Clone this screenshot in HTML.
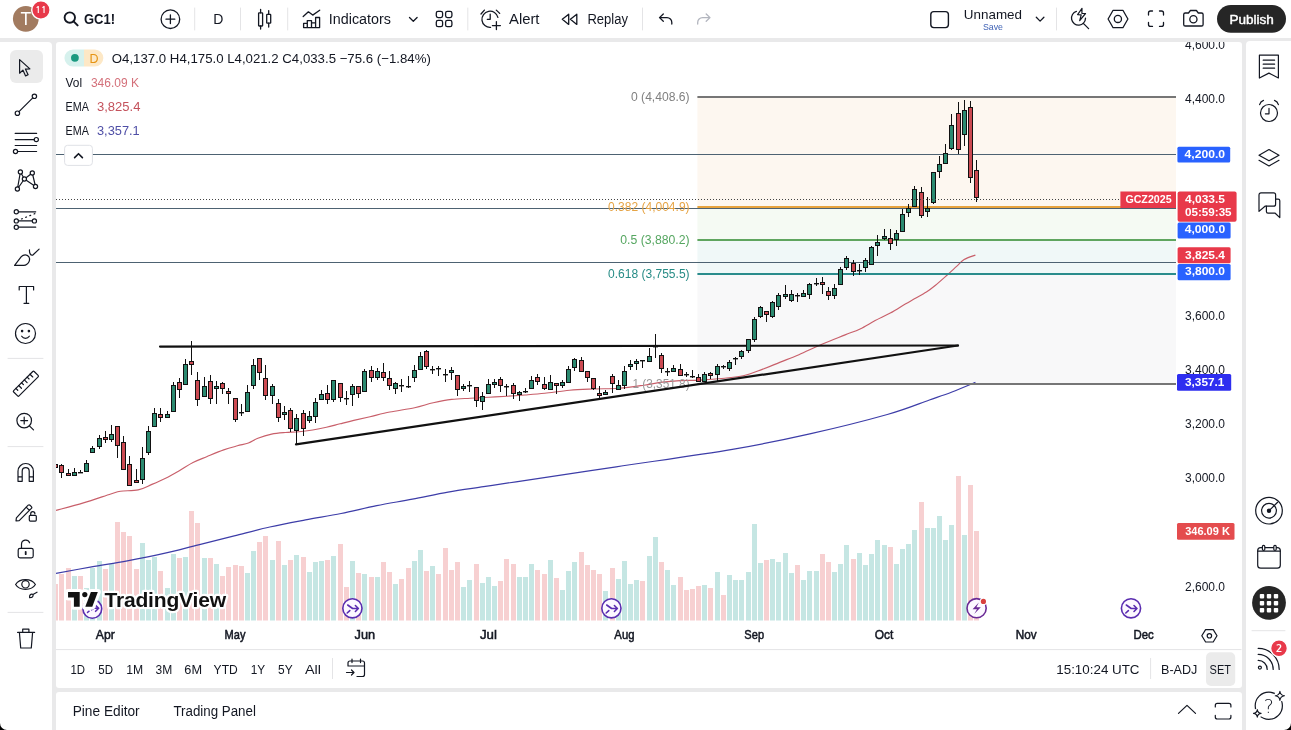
<!DOCTYPE html>
<html><head><meta charset="utf-8"><title>GC1! chart</title>
<style>
html,body{margin:0;padding:0;}
body{width:1291px;height:730px;overflow:hidden;position:relative;background:#e9e9ea;font-family:"Liberation Sans",Arial,sans-serif;color:#131722;}
.abs{position:absolute;}
.panel{position:absolute;background:#fff;}
svg{position:absolute;overflow:hidden;}
svg text{font-family:"Liberation Sans",Arial,sans-serif;}
.fl{font-size:12px;}
.tl{font-size:12.2px;font-weight:normal;fill:#131722;stroke:#131722;stroke-width:0.5px;}
.tvt{font-size:20.6px;font-weight:bold;fill:#111;letter-spacing:-0.2px;}
.tvlogo{paint-order:stroke;}
.chart{left:56px;top:42px;}

</style></head>
<body>
<div class="panel" style="left:0;top:0;width:1291px;height:38px;"></div>
<div class="panel" style="left:0;top:42px;width:52px;height:688px;border-top-right-radius:4px;"></div>
<div class="panel" style="left:56px;top:42px;width:1185.7px;height:646px;border-radius:3px;"></div>
<div class="panel" style="left:56px;top:691.7px;width:1185.7px;height:38.3px;border-top-left-radius:3px;border-top-right-radius:3px;"></div>
<div class="panel" style="left:1246px;top:41px;width:45px;height:689px;border-top-left-radius:4px;"></div>
<svg class="chart" width="1120" height="608" viewBox="56 42 1120 608">
<rect x="697.4" y="97" width="478.6" height="109.5" fill="#fdf7f0"/>
<rect x="697.4" y="206.5" width="478.6" height="33.5" fill="#f5faf3"/>
<rect x="697.4" y="240" width="478.6" height="33.7" fill="#f0f8f8"/>
<rect x="697.4" y="273.7" width="478.6" height="109.6" fill="#f8f8f9"/>
<rect x="53" y="584" width="5" height="36.5" fill="#f7d0d1"/>
<rect x="59" y="574" width="5" height="46.5" fill="#f7d0d1"/>
<rect x="66" y="568" width="5" height="52.5" fill="#f7d0d1"/>
<rect x="72" y="576" width="5" height="44.5" fill="#c5e6e3"/>
<rect x="78" y="576" width="5" height="44.5" fill="#f7d0d1"/>
<rect x="84" y="588" width="5" height="32.5" fill="#c5e6e3"/>
<rect x="90" y="568" width="5" height="52.5" fill="#c5e6e3"/>
<rect x="97" y="561" width="5" height="59.5" fill="#c5e6e3"/>
<rect x="103" y="569" width="5" height="51.5" fill="#f7d0d1"/>
<rect x="109" y="564" width="5" height="56.5" fill="#c5e6e3"/>
<rect x="115" y="522" width="5" height="98.5" fill="#f7d0d1"/>
<rect x="121" y="532" width="5" height="88.5" fill="#f7d0d1"/>
<rect x="127" y="536" width="5" height="84.5" fill="#f7d0d1"/>
<rect x="134" y="569" width="5" height="51.5" fill="#f7d0d1"/>
<rect x="140" y="543" width="5" height="77.5" fill="#c5e6e3"/>
<rect x="146" y="560" width="5" height="60.5" fill="#c5e6e3"/>
<rect x="152" y="557" width="5" height="63.5" fill="#c5e6e3"/>
<rect x="158" y="571" width="5" height="49.5" fill="#f7d0d1"/>
<rect x="165" y="588" width="5" height="32.5" fill="#c5e6e3"/>
<rect x="171" y="554" width="5" height="66.5" fill="#c5e6e3"/>
<rect x="177" y="558" width="5" height="62.5" fill="#f7d0d1"/>
<rect x="183" y="557" width="5" height="63.5" fill="#c5e6e3"/>
<rect x="189" y="511" width="5" height="109.5" fill="#f7d0d1"/>
<rect x="195" y="523" width="5" height="97.5" fill="#f7d0d1"/>
<rect x="202" y="558" width="5" height="62.5" fill="#c5e6e3"/>
<rect x="208" y="558" width="5" height="62.5" fill="#f7d0d1"/>
<rect x="214" y="564" width="5" height="56.5" fill="#c5e6e3"/>
<rect x="220" y="576" width="5" height="44.5" fill="#f7d0d1"/>
<rect x="226" y="567" width="5" height="53.5" fill="#f7d0d1"/>
<rect x="233" y="565" width="5" height="55.5" fill="#f7d0d1"/>
<rect x="239" y="566" width="5" height="54.5" fill="#f7d0d1"/>
<rect x="245" y="573" width="5" height="47.5" fill="#c5e6e3"/>
<rect x="251" y="551" width="5" height="69.5" fill="#c5e6e3"/>
<rect x="257" y="542" width="5" height="78.5" fill="#f7d0d1"/>
<rect x="263" y="536" width="5" height="84.5" fill="#f7d0d1"/>
<rect x="270" y="560" width="5" height="60.5" fill="#c5e6e3"/>
<rect x="276" y="541" width="5" height="79.5" fill="#f7d0d1"/>
<rect x="282" y="565" width="5" height="55.5" fill="#c5e6e3"/>
<rect x="288" y="560" width="5" height="60.5" fill="#f7d0d1"/>
<rect x="294" y="555" width="5" height="65.5" fill="#c5e6e3"/>
<rect x="301" y="557" width="5" height="63.5" fill="#f7d0d1"/>
<rect x="307" y="572" width="5" height="48.5" fill="#c5e6e3"/>
<rect x="313" y="562" width="5" height="58.5" fill="#c5e6e3"/>
<rect x="319" y="561" width="5" height="59.5" fill="#c5e6e3"/>
<rect x="325" y="560" width="5" height="60.5" fill="#f7d0d1"/>
<rect x="331" y="556" width="5" height="64.5" fill="#c5e6e3"/>
<rect x="338" y="544" width="5" height="76.5" fill="#f7d0d1"/>
<rect x="344" y="587" width="5" height="33.5" fill="#f7d0d1"/>
<rect x="350" y="561" width="5" height="59.5" fill="#c5e6e3"/>
<rect x="356" y="573" width="5" height="47.5" fill="#f7d0d1"/>
<rect x="362" y="574" width="5" height="46.5" fill="#c5e6e3"/>
<rect x="369" y="577" width="5" height="43.5" fill="#f7d0d1"/>
<rect x="375" y="577" width="5" height="43.5" fill="#c5e6e3"/>
<rect x="381" y="562" width="5" height="58.5" fill="#f7d0d1"/>
<rect x="387" y="572" width="5" height="48.5" fill="#f7d0d1"/>
<rect x="393" y="584" width="5" height="36.5" fill="#c5e6e3"/>
<rect x="399" y="579" width="5" height="41.5" fill="#f7d0d1"/>
<rect x="406" y="568" width="5" height="52.5" fill="#f7d0d1"/>
<rect x="412" y="561" width="5" height="59.5" fill="#c5e6e3"/>
<rect x="418" y="550" width="5" height="70.5" fill="#c5e6e3"/>
<rect x="424" y="571" width="5" height="49.5" fill="#f7d0d1"/>
<rect x="430" y="566" width="5" height="54.5" fill="#c5e6e3"/>
<rect x="436" y="574" width="5" height="46.5" fill="#f7d0d1"/>
<rect x="443" y="548" width="5" height="72.5" fill="#f7d0d1"/>
<rect x="449" y="570" width="5" height="50.5" fill="#f7d0d1"/>
<rect x="455" y="562" width="5" height="58.5" fill="#f7d0d1"/>
<rect x="461" y="587" width="5" height="33.5" fill="#c5e6e3"/>
<rect x="467" y="580" width="5" height="40.5" fill="#c5e6e3"/>
<rect x="474" y="564" width="5" height="56.5" fill="#f7d0d1"/>
<rect x="480" y="583" width="5" height="37.5" fill="#c5e6e3"/>
<rect x="486" y="577" width="5" height="43.5" fill="#c5e6e3"/>
<rect x="492" y="586" width="5" height="34.5" fill="#c5e6e3"/>
<rect x="498" y="581" width="5" height="39.5" fill="#f7d0d1"/>
<rect x="504" y="559" width="5" height="61.5" fill="#f7d0d1"/>
<rect x="511" y="564" width="5" height="56.5" fill="#f7d0d1"/>
<rect x="517" y="577" width="5" height="43.5" fill="#c5e6e3"/>
<rect x="523" y="577" width="5" height="43.5" fill="#c5e6e3"/>
<rect x="529" y="564" width="5" height="56.5" fill="#c5e6e3"/>
<rect x="535" y="570" width="5" height="50.5" fill="#f7d0d1"/>
<rect x="542" y="574" width="5" height="46.5" fill="#f7d0d1"/>
<rect x="548" y="560" width="5" height="60.5" fill="#c5e6e3"/>
<rect x="554" y="578" width="5" height="42.5" fill="#f7d0d1"/>
<rect x="560" y="590" width="5" height="30.5" fill="#c5e6e3"/>
<rect x="566" y="571" width="5" height="49.5" fill="#c5e6e3"/>
<rect x="572" y="562" width="5" height="58.5" fill="#c5e6e3"/>
<rect x="579" y="552" width="5" height="68.5" fill="#f7d0d1"/>
<rect x="585" y="565" width="5" height="55.5" fill="#f7d0d1"/>
<rect x="591" y="570" width="5" height="50.5" fill="#f7d0d1"/>
<rect x="597" y="574" width="5" height="46.5" fill="#f7d0d1"/>
<rect x="603" y="591" width="5" height="29.5" fill="#c5e6e3"/>
<rect x="610" y="568" width="5" height="52.5" fill="#f7d0d1"/>
<rect x="616" y="579" width="5" height="41.5" fill="#c5e6e3"/>
<rect x="622" y="561" width="5" height="59.5" fill="#c5e6e3"/>
<rect x="628" y="584" width="5" height="36.5" fill="#c5e6e3"/>
<rect x="634" y="580" width="5" height="40.5" fill="#c5e6e3"/>
<rect x="640" y="581" width="5" height="39.5" fill="#f7d0d1"/>
<rect x="647" y="556" width="5" height="64.5" fill="#c5e6e3"/>
<rect x="653" y="537" width="5" height="83.5" fill="#c5e6e3"/>
<rect x="659" y="562" width="5" height="58.5" fill="#f7d0d1"/>
<rect x="665" y="570" width="5" height="50.5" fill="#c5e6e3"/>
<rect x="671" y="585" width="5" height="35.5" fill="#c5e6e3"/>
<rect x="678" y="577" width="5" height="43.5" fill="#f7d0d1"/>
<rect x="684" y="590" width="5" height="30.5" fill="#f7d0d1"/>
<rect x="690" y="589" width="5" height="31.5" fill="#f7d0d1"/>
<rect x="696" y="586" width="5" height="34.5" fill="#f7d0d1"/>
<rect x="702" y="585" width="5" height="35.5" fill="#c5e6e3"/>
<rect x="708" y="588" width="5" height="32.5" fill="#f7d0d1"/>
<rect x="715" y="572" width="5" height="48.5" fill="#c5e6e3"/>
<rect x="721" y="595" width="5" height="25.5" fill="#f7d0d1"/>
<rect x="727" y="575" width="5" height="45.5" fill="#c5e6e3"/>
<rect x="733" y="580" width="5" height="40.5" fill="#c5e6e3"/>
<rect x="739" y="580" width="5" height="40.5" fill="#c5e6e3"/>
<rect x="746" y="572" width="5" height="48.5" fill="#c5e6e3"/>
<rect x="752" y="524" width="5" height="96.5" fill="#c5e6e3"/>
<rect x="758" y="563" width="5" height="57.5" fill="#c5e6e3"/>
<rect x="764" y="560" width="5" height="60.5" fill="#f7d0d1"/>
<rect x="770" y="559" width="5" height="61.5" fill="#c5e6e3"/>
<rect x="776" y="562" width="5" height="58.5" fill="#c5e6e3"/>
<rect x="783" y="553" width="5" height="67.5" fill="#c5e6e3"/>
<rect x="789" y="573" width="5" height="47.5" fill="#c5e6e3"/>
<rect x="795" y="565" width="5" height="55.5" fill="#f7d0d1"/>
<rect x="801" y="580" width="5" height="40.5" fill="#c5e6e3"/>
<rect x="807" y="571" width="5" height="49.5" fill="#c5e6e3"/>
<rect x="814" y="571" width="5" height="49.5" fill="#c5e6e3"/>
<rect x="820" y="554" width="5" height="66.5" fill="#f7d0d1"/>
<rect x="826" y="562" width="5" height="58.5" fill="#f7d0d1"/>
<rect x="832" y="572" width="5" height="48.5" fill="#c5e6e3"/>
<rect x="838" y="564" width="5" height="56.5" fill="#c5e6e3"/>
<rect x="844" y="545" width="5" height="75.5" fill="#c5e6e3"/>
<rect x="851" y="559" width="5" height="61.5" fill="#f7d0d1"/>
<rect x="857" y="553" width="5" height="67.5" fill="#c5e6e3"/>
<rect x="863" y="565" width="5" height="55.5" fill="#c5e6e3"/>
<rect x="869" y="554" width="5" height="66.5" fill="#c5e6e3"/>
<rect x="875" y="540" width="5" height="80.5" fill="#c5e6e3"/>
<rect x="882" y="545" width="5" height="75.5" fill="#c5e6e3"/>
<rect x="888" y="547" width="5" height="73.5" fill="#f7d0d1"/>
<rect x="894" y="564" width="5" height="56.5" fill="#c5e6e3"/>
<rect x="900" y="549" width="5" height="71.5" fill="#c5e6e3"/>
<rect x="906" y="544" width="5" height="76.5" fill="#c5e6e3"/>
<rect x="912" y="530" width="5" height="90.5" fill="#c5e6e3"/>
<rect x="919" y="502" width="5" height="118.5" fill="#f7d0d1"/>
<rect x="925" y="528" width="5" height="92.5" fill="#c5e6e3"/>
<rect x="931" y="528" width="5" height="92.5" fill="#c5e6e3"/>
<rect x="937" y="516" width="5" height="104.5" fill="#c5e6e3"/>
<rect x="943" y="540" width="5" height="80.5" fill="#c5e6e3"/>
<rect x="949" y="525" width="5" height="95.5" fill="#c5e6e3"/>
<rect x="956" y="476" width="5" height="144.5" fill="#f7d0d1"/>
<rect x="962" y="535" width="5" height="85.5" fill="#c5e6e3"/>
<rect x="968" y="485" width="5" height="135.5" fill="#f7d0d1"/>
<rect x="974" y="531" width="5" height="89.5" fill="#f7d0d1"/>
<path d="M56,510.4 C60.57,509.15 74.27,505.63 83.4,502.9 C92.53,500.17 104.63,495.95 110.8,494 C116.97,492.05 115.83,491.88 120.4,491.2 C124.97,490.52 132.95,491.03 138.2,489.9 C143.45,488.77 147.33,486.35 151.9,484.4 C156.47,482.45 161.03,480.48 165.6,478.2 C170.17,475.92 174.73,473.32 179.3,470.7 C183.87,468.08 188.43,464.83 193,462.5 C197.57,460.17 201.58,458.8 206.7,456.7 C211.82,454.6 218.58,451.72 223.7,449.9 C228.82,448.08 233.28,446.95 237.4,445.8 C241.52,444.65 244.98,444.27 248.4,443 C251.82,441.73 254.03,439.68 257.9,438.2 C261.77,436.72 267.03,435.05 271.6,434.1 C276.17,433.15 280.73,432.88 285.3,432.5 C289.87,432.12 294.43,432.22 299,431.8 C303.57,431.38 308.13,430.75 312.7,430 C317.27,429.25 321.83,428.33 326.4,427.3 C330.97,426.27 335.53,424.95 340.1,423.8 C344.67,422.65 348.82,421.58 353.8,420.4 C358.78,419.22 364,418.1 370,416.7 C376,415.3 382.37,413.5 389.8,412 C397.23,410.5 407.37,409.23 414.6,407.7 C421.83,406.17 427.02,404.18 433.2,402.8 C439.38,401.42 445.52,400.17 451.7,399.4 C457.88,398.63 464.1,398.57 470.3,398.2 C476.5,397.83 482.7,397.53 488.9,397.2 C495.1,396.87 501.48,396.57 507.5,396.2 C513.52,395.83 518.78,395.48 525,395 C531.22,394.52 537.37,394.1 544.8,393.3 C552.23,392.5 561.35,390.92 569.6,390.2 C577.85,389.48 586.05,389.32 594.3,389 C602.55,388.68 610.83,388.93 619.1,388.3 C627.37,387.67 636.67,386.23 643.9,385.2 C651.13,384.17 656.48,382.87 662.5,382.1 C668.52,381.33 673.78,380.93 680,380.6 C686.22,380.27 692.37,380.5 699.8,380.1 C707.23,379.7 717.37,378.92 724.6,378.2 C731.83,377.48 737.02,377.23 743.2,375.8 C749.38,374.37 755.52,371.88 761.7,369.6 C767.88,367.32 774.1,364.58 780.3,362.1 C786.5,359.62 791.97,357.68 798.9,354.7 C805.83,351.72 814.2,347.5 821.9,344.2 C829.6,340.9 838.73,337.45 845.1,334.9 C851.47,332.35 855.08,331.28 860.1,328.9 C865.12,326.52 870.17,323.23 875.2,320.6 C880.23,317.97 885.28,315.87 890.3,313.1 C895.32,310.33 901.28,306.38 905.3,304 C909.32,301.62 910.88,300.8 914.4,298.8 C917.92,296.8 922.88,294.27 926.4,292 C929.92,289.73 931.98,288.08 935.5,285.2 C939.02,282.32 943.98,277.83 947.5,274.7 C951.02,271.57 953.83,268.92 956.6,266.4 C959.37,263.88 960.97,261.48 964.1,259.6 C967.23,257.72 973.52,255.85 975.4,255.1" fill="none" stroke="#c85f6a" stroke-width="1.15"/>
<path d="M56,573.3 C61.93,572.23 79.72,568.97 91.6,566.9 C103.48,564.83 115.42,563.1 127.3,560.9 C139.18,558.7 151.03,556.38 162.9,553.7 C174.77,551.02 186.62,547.77 198.5,544.8 C210.38,541.83 222.32,538.87 234.2,535.9 C246.08,532.93 257.92,529.67 269.8,527 C281.68,524.33 293.62,522.15 305.5,519.9 C317.38,517.65 329.23,515.88 341.1,513.5 C352.97,511.12 364.82,507.98 376.7,505.6 C388.58,503.22 400.52,501.45 412.4,499.2 C424.28,496.95 436.13,494.18 448,492.1 C459.87,490.02 472.27,488.42 483.6,486.7 C494.93,484.98 493.9,485.12 516,481.8 C538.1,478.48 580.13,472.2 616.2,466.8 C652.27,461.4 700.13,454.88 732.4,449.4 C764.67,443.92 783.98,439.72 809.8,433.9 C835.62,428.08 867.37,420.15 887.3,414.5 C907.23,408.85 918.62,403.75 929.4,400 C940.18,396.25 944.33,394.93 952,392 C959.67,389.07 971.5,384 975.4,382.4" fill="none" stroke="#3d3da8" stroke-width="1.2"/>
<line x1="56" x2="1176" y1="154.5" y2="154.5" stroke="#4d6272" stroke-width="1"/>
<line x1="56" x2="1176" y1="208.5" y2="208.5" stroke="#4d6272" stroke-width="1"/>
<line x1="56" x2="1176" y1="262.5" y2="262.5" stroke="#4d6272" stroke-width="1"/>
<line x1="697.4" x2="1176" y1="97" y2="97" stroke="#767676" stroke-width="2"/>
<line x1="697.4" x2="1176" y1="207" y2="207" stroke="#e7a33e" stroke-width="2"/>
<line x1="697.4" x2="1176" y1="240" y2="240" stroke="#5fa55f" stroke-width="2"/>
<line x1="697.4" x2="1176" y1="274" y2="274" stroke="#2a8c8c" stroke-width="2"/>
<line x1="697.4" x2="1176" y1="384" y2="384" stroke="#767676" stroke-width="2"/>
<text x="631.0" y="101.3" fill="#808080" class="fl" textLength="58.6" lengthAdjust="spacingAndGlyphs">0 (4,408.6)</text>
<text x="608.0" y="210.9" fill="#e6a445" class="fl" textLength="81.6" lengthAdjust="spacingAndGlyphs">0.382 (4,004.9)</text>
<text x="620.3000000000001" y="244.3" fill="#55a660" class="fl" textLength="69.3" lengthAdjust="spacingAndGlyphs">0.5 (3,880.2)</text>
<text x="608.0" y="278.0" fill="#278c86" class="fl" textLength="81.6" lengthAdjust="spacingAndGlyphs">0.618 (3,755.5)</text>
<text x="632.4" y="387.6" fill="#9a9a9a" class="fl" textLength="57.2" lengthAdjust="spacingAndGlyphs">1 (3,351.8)</text>
<line x1="160" y1="346.6" x2="958" y2="345.5" stroke="#111" stroke-width="2.2" stroke-linecap="round"/>
<line x1="296" y1="444.4" x2="958" y2="345.5" stroke="#111" stroke-width="2.2" stroke-linecap="round"/>
<line x1="55.5" x2="55.5" y1="463" y2="470" stroke="#111" stroke-width="1"/>
<rect x="53.5" y="464.5" width="4" height="3" fill="#cc4a52" stroke="#111" stroke-width="1"/>
<line x1="61.5" x2="61.5" y1="464" y2="478" stroke="#111" stroke-width="1"/>
<rect x="59.5" y="465.5" width="4" height="7" fill="#cc4a52" stroke="#111" stroke-width="1"/>
<line x1="68.5" x2="68.5" y1="469" y2="476" stroke="#111" stroke-width="1"/>
<rect x="66.5" y="473.5" width="4" height="2" fill="#cc4a52" stroke="#111" stroke-width="1"/>
<line x1="74.5" x2="74.5" y1="468" y2="476" stroke="#111" stroke-width="1"/>
<rect x="72.5" y="472.5" width="4" height="3" fill="#2b8a70" stroke="#111" stroke-width="1"/>
<line x1="80.5" x2="80.5" y1="470" y2="473" stroke="#111" stroke-width="1"/>
<rect x="78" y="472" width="5" height="1.4" fill="#111"/>
<line x1="86.5" x2="86.5" y1="460" y2="472" stroke="#111" stroke-width="1"/>
<rect x="84.5" y="463.5" width="4" height="8" fill="#2b8a70" stroke="#111" stroke-width="1"/>
<line x1="92.5" x2="92.5" y1="446" y2="453" stroke="#111" stroke-width="1"/>
<rect x="90.5" y="448.5" width="4" height="4" fill="#2b8a70" stroke="#111" stroke-width="1"/>
<line x1="99.5" x2="99.5" y1="435" y2="449" stroke="#111" stroke-width="1"/>
<rect x="97.5" y="438.5" width="4" height="8" fill="#2b8a70" stroke="#111" stroke-width="1"/>
<line x1="105.5" x2="105.5" y1="431" y2="443" stroke="#111" stroke-width="1"/>
<rect x="103.5" y="437.5" width="4" height="2" fill="#cc4a52" stroke="#111" stroke-width="1"/>
<line x1="111.5" x2="111.5" y1="425" y2="442" stroke="#111" stroke-width="1"/>
<rect x="109.5" y="434.5" width="4" height="5" fill="#2b8a70" stroke="#111" stroke-width="1"/>
<line x1="117.5" x2="117.5" y1="426" y2="458" stroke="#111" stroke-width="1"/>
<rect x="115.5" y="426.5" width="4" height="19" fill="#cc4a52" stroke="#111" stroke-width="1"/>
<line x1="123.5" x2="123.5" y1="436" y2="470" stroke="#111" stroke-width="1"/>
<rect x="121.5" y="442.5" width="4" height="27" fill="#cc4a52" stroke="#111" stroke-width="1"/>
<line x1="129.5" x2="129.5" y1="456" y2="486" stroke="#111" stroke-width="1"/>
<rect x="127.5" y="464.5" width="4" height="21" fill="#cc4a52" stroke="#111" stroke-width="1"/>
<line x1="136.5" x2="136.5" y1="469" y2="482" stroke="#111" stroke-width="1"/>
<rect x="134.5" y="480.5" width="4" height="2" fill="#cc4a52" stroke="#111" stroke-width="1"/>
<line x1="142.5" x2="142.5" y1="447" y2="484" stroke="#111" stroke-width="1"/>
<rect x="140.5" y="458.5" width="4" height="21" fill="#2b8a70" stroke="#111" stroke-width="1"/>
<line x1="148.5" x2="148.5" y1="426" y2="455" stroke="#111" stroke-width="1"/>
<rect x="146.5" y="431.5" width="4" height="21" fill="#2b8a70" stroke="#111" stroke-width="1"/>
<line x1="154.5" x2="154.5" y1="408" y2="427" stroke="#111" stroke-width="1"/>
<rect x="152.5" y="413.5" width="4" height="13" fill="#2b8a70" stroke="#111" stroke-width="1"/>
<line x1="160.5" x2="160.5" y1="408" y2="422" stroke="#111" stroke-width="1"/>
<rect x="158.5" y="414.5" width="4" height="3" fill="#cc4a52" stroke="#111" stroke-width="1"/>
<line x1="167.5" x2="167.5" y1="411" y2="418" stroke="#111" stroke-width="1"/>
<rect x="165.5" y="414.5" width="4" height="3" fill="#2b8a70" stroke="#111" stroke-width="1"/>
<line x1="173.5" x2="173.5" y1="382" y2="412" stroke="#111" stroke-width="1"/>
<rect x="171.5" y="385.5" width="4" height="26" fill="#2b8a70" stroke="#111" stroke-width="1"/>
<line x1="179.5" x2="179.5" y1="378" y2="398" stroke="#111" stroke-width="1"/>
<rect x="177.5" y="382.5" width="4" height="7" fill="#cc4a52" stroke="#111" stroke-width="1"/>
<line x1="185.5" x2="185.5" y1="359" y2="385" stroke="#111" stroke-width="1"/>
<rect x="183.5" y="364.5" width="4" height="20" fill="#2b8a70" stroke="#111" stroke-width="1"/>
<line x1="191.5" x2="191.5" y1="341" y2="375" stroke="#111" stroke-width="1"/>
<rect x="189.5" y="361.5" width="4" height="3" fill="#cc4a52" stroke="#111" stroke-width="1"/>
<line x1="197.5" x2="197.5" y1="372" y2="406" stroke="#111" stroke-width="1"/>
<rect x="195.5" y="380.5" width="4" height="19" fill="#cc4a52" stroke="#111" stroke-width="1"/>
<line x1="204.5" x2="204.5" y1="377" y2="397" stroke="#111" stroke-width="1"/>
<rect x="202.5" y="386.5" width="4" height="10" fill="#2b8a70" stroke="#111" stroke-width="1"/>
<line x1="210.5" x2="210.5" y1="375" y2="404" stroke="#111" stroke-width="1"/>
<rect x="208.5" y="381.5" width="4" height="17" fill="#cc4a52" stroke="#111" stroke-width="1"/>
<line x1="216.5" x2="216.5" y1="381" y2="404" stroke="#111" stroke-width="1"/>
<rect x="214.5" y="386.5" width="4" height="2" fill="#2b8a70" stroke="#111" stroke-width="1"/>
<line x1="222.5" x2="222.5" y1="382" y2="394" stroke="#111" stroke-width="1"/>
<rect x="220.5" y="383.5" width="4" height="5" fill="#cc4a52" stroke="#111" stroke-width="1"/>
<line x1="228.5" x2="228.5" y1="388" y2="404" stroke="#111" stroke-width="1"/>
<rect x="226.5" y="391.5" width="4" height="2" fill="#cc4a52" stroke="#111" stroke-width="1"/>
<line x1="235.5" x2="235.5" y1="398" y2="422" stroke="#111" stroke-width="1"/>
<rect x="233.5" y="398.5" width="4" height="21" fill="#cc4a52" stroke="#111" stroke-width="1"/>
<line x1="241.5" x2="241.5" y1="404" y2="416" stroke="#111" stroke-width="1"/>
<rect x="239" y="412" width="5" height="1.4" fill="#111"/>
<line x1="247.5" x2="247.5" y1="385" y2="412" stroke="#111" stroke-width="1"/>
<rect x="245.5" y="392.5" width="4" height="19" fill="#2b8a70" stroke="#111" stroke-width="1"/>
<line x1="253.5" x2="253.5" y1="359" y2="389" stroke="#111" stroke-width="1"/>
<rect x="251.5" y="365.5" width="4" height="20" fill="#2b8a70" stroke="#111" stroke-width="1"/>
<line x1="259.5" x2="259.5" y1="358" y2="380" stroke="#111" stroke-width="1"/>
<rect x="257.5" y="358.5" width="4" height="14" fill="#cc4a52" stroke="#111" stroke-width="1"/>
<line x1="265.5" x2="265.5" y1="365" y2="400" stroke="#111" stroke-width="1"/>
<rect x="263.5" y="378.5" width="4" height="17" fill="#cc4a52" stroke="#111" stroke-width="1"/>
<line x1="272.5" x2="272.5" y1="384" y2="404" stroke="#111" stroke-width="1"/>
<rect x="270.5" y="386.5" width="4" height="9" fill="#2b8a70" stroke="#111" stroke-width="1"/>
<line x1="278.5" x2="278.5" y1="399" y2="422" stroke="#111" stroke-width="1"/>
<rect x="276.5" y="403.5" width="4" height="14" fill="#cc4a52" stroke="#111" stroke-width="1"/>
<line x1="284.5" x2="284.5" y1="406" y2="420" stroke="#111" stroke-width="1"/>
<rect x="282.5" y="412.5" width="4" height="2" fill="#2b8a70" stroke="#111" stroke-width="1"/>
<line x1="290.5" x2="290.5" y1="408" y2="432" stroke="#111" stroke-width="1"/>
<rect x="288.5" y="410.5" width="4" height="18" fill="#cc4a52" stroke="#111" stroke-width="1"/>
<line x1="296.5" x2="296.5" y1="414" y2="445" stroke="#111" stroke-width="1"/>
<rect x="294.5" y="418.5" width="4" height="12" fill="#2b8a70" stroke="#111" stroke-width="1"/>
<line x1="303.5" x2="303.5" y1="410" y2="436" stroke="#111" stroke-width="1"/>
<rect x="301.5" y="413.5" width="4" height="15" fill="#cc4a52" stroke="#111" stroke-width="1"/>
<line x1="309.5" x2="309.5" y1="411" y2="423" stroke="#111" stroke-width="1"/>
<rect x="307.5" y="416.5" width="4" height="4" fill="#2b8a70" stroke="#111" stroke-width="1"/>
<line x1="315.5" x2="315.5" y1="398" y2="423" stroke="#111" stroke-width="1"/>
<rect x="313.5" y="402.5" width="4" height="14" fill="#2b8a70" stroke="#111" stroke-width="1"/>
<line x1="321.5" x2="321.5" y1="390" y2="400" stroke="#111" stroke-width="1"/>
<rect x="319.5" y="394.5" width="4" height="5" fill="#2b8a70" stroke="#111" stroke-width="1"/>
<line x1="327.5" x2="327.5" y1="385" y2="404" stroke="#111" stroke-width="1"/>
<rect x="325.5" y="393.5" width="4" height="6" fill="#cc4a52" stroke="#111" stroke-width="1"/>
<line x1="333.5" x2="333.5" y1="380" y2="402" stroke="#111" stroke-width="1"/>
<rect x="331.5" y="380.5" width="4" height="19" fill="#2b8a70" stroke="#111" stroke-width="1"/>
<line x1="340.5" x2="340.5" y1="383" y2="402" stroke="#111" stroke-width="1"/>
<rect x="338.5" y="383.5" width="4" height="14" fill="#cc4a52" stroke="#111" stroke-width="1"/>
<line x1="346.5" x2="346.5" y1="391" y2="405" stroke="#111" stroke-width="1"/>
<rect x="344" y="398" width="5" height="1.4" fill="#111"/>
<line x1="352.5" x2="352.5" y1="384" y2="406" stroke="#111" stroke-width="1"/>
<rect x="350.5" y="386.5" width="4" height="8" fill="#2b8a70" stroke="#111" stroke-width="1"/>
<line x1="358.5" x2="358.5" y1="386" y2="398" stroke="#111" stroke-width="1"/>
<rect x="356.5" y="386.5" width="4" height="7" fill="#cc4a52" stroke="#111" stroke-width="1"/>
<line x1="364.5" x2="364.5" y1="369" y2="392" stroke="#111" stroke-width="1"/>
<rect x="362.5" y="371.5" width="4" height="20" fill="#2b8a70" stroke="#111" stroke-width="1"/>
<line x1="371.5" x2="371.5" y1="366" y2="382" stroke="#111" stroke-width="1"/>
<rect x="369.5" y="370.5" width="4" height="7" fill="#cc4a52" stroke="#111" stroke-width="1"/>
<line x1="377.5" x2="377.5" y1="368" y2="380" stroke="#111" stroke-width="1"/>
<rect x="375.5" y="371.5" width="4" height="6" fill="#2b8a70" stroke="#111" stroke-width="1"/>
<line x1="383.5" x2="383.5" y1="363" y2="381" stroke="#111" stroke-width="1"/>
<rect x="381.5" y="372.5" width="4" height="5" fill="#cc4a52" stroke="#111" stroke-width="1"/>
<line x1="389.5" x2="389.5" y1="371" y2="390" stroke="#111" stroke-width="1"/>
<rect x="387.5" y="378.5" width="4" height="7" fill="#cc4a52" stroke="#111" stroke-width="1"/>
<line x1="395.5" x2="395.5" y1="382" y2="394" stroke="#111" stroke-width="1"/>
<rect x="393.5" y="383.5" width="4" height="5" fill="#2b8a70" stroke="#111" stroke-width="1"/>
<line x1="401.5" x2="401.5" y1="379" y2="392" stroke="#111" stroke-width="1"/>
<rect x="399" y="385" width="5" height="1.4" fill="#111"/>
<line x1="408.5" x2="408.5" y1="376" y2="388" stroke="#111" stroke-width="1"/>
<rect x="406" y="386" width="5" height="1.4" fill="#111"/>
<line x1="414.5" x2="414.5" y1="365" y2="382" stroke="#111" stroke-width="1"/>
<rect x="412.5" y="370.5" width="4" height="7" fill="#2b8a70" stroke="#111" stroke-width="1"/>
<line x1="420.5" x2="420.5" y1="352" y2="370" stroke="#111" stroke-width="1"/>
<rect x="418.5" y="356.5" width="4" height="13" fill="#2b8a70" stroke="#111" stroke-width="1"/>
<line x1="426.5" x2="426.5" y1="350" y2="369" stroke="#111" stroke-width="1"/>
<rect x="424.5" y="351.5" width="4" height="15" fill="#cc4a52" stroke="#111" stroke-width="1"/>
<line x1="432.5" x2="432.5" y1="366" y2="374" stroke="#111" stroke-width="1"/>
<rect x="430" y="369" width="5" height="1.4" fill="#111"/>
<line x1="438.5" x2="438.5" y1="366" y2="376" stroke="#111" stroke-width="1"/>
<rect x="436" y="368" width="5" height="1.4" fill="#111"/>
<line x1="445.5" x2="445.5" y1="369" y2="382" stroke="#111" stroke-width="1"/>
<rect x="443" y="374" width="5" height="1.4" fill="#111"/>
<line x1="451.5" x2="451.5" y1="367" y2="380" stroke="#111" stroke-width="1"/>
<rect x="449.5" y="370.5" width="4" height="2" fill="#2b8a70" stroke="#111" stroke-width="1"/>
<line x1="457.5" x2="457.5" y1="375" y2="396" stroke="#111" stroke-width="1"/>
<rect x="455.5" y="375.5" width="4" height="14" fill="#cc4a52" stroke="#111" stroke-width="1"/>
<line x1="463.5" x2="463.5" y1="384" y2="391" stroke="#111" stroke-width="1"/>
<rect x="461.5" y="386.5" width="4" height="2" fill="#2b8a70" stroke="#111" stroke-width="1"/>
<line x1="469.5" x2="469.5" y1="381" y2="392" stroke="#111" stroke-width="1"/>
<rect x="467" y="385" width="5" height="1.4" fill="#111"/>
<line x1="476.5" x2="476.5" y1="387" y2="407" stroke="#111" stroke-width="1"/>
<rect x="474.5" y="387.5" width="4" height="13" fill="#cc4a52" stroke="#111" stroke-width="1"/>
<line x1="482.5" x2="482.5" y1="392" y2="410" stroke="#111" stroke-width="1"/>
<rect x="480.5" y="396.5" width="4" height="5" fill="#2b8a70" stroke="#111" stroke-width="1"/>
<line x1="488.5" x2="488.5" y1="379" y2="394" stroke="#111" stroke-width="1"/>
<rect x="486.5" y="384.5" width="4" height="9" fill="#2b8a70" stroke="#111" stroke-width="1"/>
<line x1="494.5" x2="494.5" y1="379" y2="388" stroke="#111" stroke-width="1"/>
<rect x="492.5" y="382.5" width="4" height="2" fill="#2b8a70" stroke="#111" stroke-width="1"/>
<line x1="500.5" x2="500.5" y1="377" y2="392" stroke="#111" stroke-width="1"/>
<rect x="498.5" y="379.5" width="4" height="6" fill="#cc4a52" stroke="#111" stroke-width="1"/>
<line x1="506.5" x2="506.5" y1="384" y2="396" stroke="#111" stroke-width="1"/>
<rect x="504" y="386" width="5" height="1.4" fill="#111"/>
<line x1="513.5" x2="513.5" y1="383" y2="399" stroke="#111" stroke-width="1"/>
<rect x="511.5" y="385.5" width="4" height="8" fill="#cc4a52" stroke="#111" stroke-width="1"/>
<line x1="519.5" x2="519.5" y1="391" y2="401" stroke="#111" stroke-width="1"/>
<rect x="517.5" y="392.5" width="4" height="2" fill="#2b8a70" stroke="#111" stroke-width="1"/>
<line x1="525.5" x2="525.5" y1="388" y2="393" stroke="#111" stroke-width="1"/>
<rect x="523" y="391" width="5" height="1.4" fill="#111"/>
<line x1="531.5" x2="531.5" y1="376" y2="389" stroke="#111" stroke-width="1"/>
<rect x="529.5" y="380.5" width="4" height="8" fill="#2b8a70" stroke="#111" stroke-width="1"/>
<line x1="537.5" x2="537.5" y1="374" y2="385" stroke="#111" stroke-width="1"/>
<rect x="535.5" y="377.5" width="4" height="4" fill="#cc4a52" stroke="#111" stroke-width="1"/>
<line x1="544.5" x2="544.5" y1="377" y2="390" stroke="#111" stroke-width="1"/>
<rect x="542.5" y="384.5" width="4" height="4" fill="#cc4a52" stroke="#111" stroke-width="1"/>
<line x1="550.5" x2="550.5" y1="375" y2="390" stroke="#111" stroke-width="1"/>
<rect x="548.5" y="382.5" width="4" height="7" fill="#2b8a70" stroke="#111" stroke-width="1"/>
<line x1="556.5" x2="556.5" y1="383" y2="394" stroke="#111" stroke-width="1"/>
<rect x="554.5" y="383.5" width="4" height="2" fill="#cc4a52" stroke="#111" stroke-width="1"/>
<line x1="562.5" x2="562.5" y1="380" y2="388" stroke="#111" stroke-width="1"/>
<rect x="560.5" y="382.5" width="4" height="3" fill="#2b8a70" stroke="#111" stroke-width="1"/>
<line x1="568.5" x2="568.5" y1="366" y2="383" stroke="#111" stroke-width="1"/>
<rect x="566.5" y="369.5" width="4" height="13" fill="#2b8a70" stroke="#111" stroke-width="1"/>
<line x1="574.5" x2="574.5" y1="358" y2="371" stroke="#111" stroke-width="1"/>
<rect x="572.5" y="359.5" width="4" height="8" fill="#2b8a70" stroke="#111" stroke-width="1"/>
<line x1="581.5" x2="581.5" y1="357" y2="372" stroke="#111" stroke-width="1"/>
<rect x="579.5" y="360.5" width="4" height="11" fill="#cc4a52" stroke="#111" stroke-width="1"/>
<line x1="587.5" x2="587.5" y1="371" y2="382" stroke="#111" stroke-width="1"/>
<rect x="585.5" y="371.5" width="4" height="6" fill="#cc4a52" stroke="#111" stroke-width="1"/>
<line x1="593.5" x2="593.5" y1="378" y2="390" stroke="#111" stroke-width="1"/>
<rect x="591.5" y="378.5" width="4" height="10" fill="#cc4a52" stroke="#111" stroke-width="1"/>
<line x1="599.5" x2="599.5" y1="386" y2="398" stroke="#111" stroke-width="1"/>
<rect x="597.5" y="393.5" width="4" height="2" fill="#cc4a52" stroke="#111" stroke-width="1"/>
<line x1="605.5" x2="605.5" y1="390" y2="395" stroke="#111" stroke-width="1"/>
<rect x="603.5" y="392.5" width="4" height="2" fill="#2b8a70" stroke="#111" stroke-width="1"/>
<line x1="612.5" x2="612.5" y1="374" y2="393" stroke="#111" stroke-width="1"/>
<rect x="610.5" y="376.5" width="4" height="7" fill="#cc4a52" stroke="#111" stroke-width="1"/>
<line x1="618.5" x2="618.5" y1="380" y2="390" stroke="#111" stroke-width="1"/>
<rect x="616.5" y="385.5" width="4" height="4" fill="#2b8a70" stroke="#111" stroke-width="1"/>
<line x1="624.5" x2="624.5" y1="366" y2="389" stroke="#111" stroke-width="1"/>
<rect x="622.5" y="371.5" width="4" height="14" fill="#2b8a70" stroke="#111" stroke-width="1"/>
<line x1="630.5" x2="630.5" y1="360" y2="370" stroke="#111" stroke-width="1"/>
<rect x="628.5" y="364.5" width="4" height="2" fill="#2b8a70" stroke="#111" stroke-width="1"/>
<line x1="636.5" x2="636.5" y1="359" y2="370" stroke="#111" stroke-width="1"/>
<rect x="634.5" y="361.5" width="4" height="2" fill="#2b8a70" stroke="#111" stroke-width="1"/>
<line x1="642.5" x2="642.5" y1="360" y2="368" stroke="#111" stroke-width="1"/>
<rect x="640" y="360" width="5" height="1.4" fill="#111"/>
<line x1="649.5" x2="649.5" y1="348" y2="362" stroke="#111" stroke-width="1"/>
<rect x="647.5" y="356.5" width="4" height="5" fill="#2b8a70" stroke="#111" stroke-width="1"/>
<line x1="655.5" x2="655.5" y1="334" y2="358" stroke="#111" stroke-width="1"/>
<rect x="653" y="346" width="5" height="1.4" fill="#111"/>
<line x1="661.5" x2="661.5" y1="353" y2="373" stroke="#111" stroke-width="1"/>
<rect x="659.5" y="355.5" width="4" height="13" fill="#cc4a52" stroke="#111" stroke-width="1"/>
<line x1="667.5" x2="667.5" y1="368" y2="376" stroke="#111" stroke-width="1"/>
<rect x="665" y="371" width="5" height="1.4" fill="#111"/>
<line x1="673.5" x2="673.5" y1="365" y2="372" stroke="#111" stroke-width="1"/>
<rect x="671.5" y="368.5" width="4" height="3" fill="#2b8a70" stroke="#111" stroke-width="1"/>
<line x1="680.5" x2="680.5" y1="364" y2="376" stroke="#111" stroke-width="1"/>
<rect x="678.5" y="369.5" width="4" height="6" fill="#cc4a52" stroke="#111" stroke-width="1"/>
<line x1="686.5" x2="686.5" y1="372" y2="377" stroke="#111" stroke-width="1"/>
<rect x="684" y="374" width="5" height="1.4" fill="#111"/>
<line x1="692.5" x2="692.5" y1="370" y2="378" stroke="#111" stroke-width="1"/>
<rect x="690" y="376" width="5" height="1.4" fill="#111"/>
<line x1="698.5" x2="698.5" y1="374" y2="382" stroke="#111" stroke-width="1"/>
<rect x="696.5" y="377.5" width="4" height="4" fill="#cc4a52" stroke="#111" stroke-width="1"/>
<line x1="704.5" x2="704.5" y1="372" y2="382" stroke="#111" stroke-width="1"/>
<rect x="702.5" y="374.5" width="4" height="7" fill="#2b8a70" stroke="#111" stroke-width="1"/>
<line x1="710.5" x2="710.5" y1="372" y2="379" stroke="#111" stroke-width="1"/>
<rect x="708.5" y="373.5" width="4" height="2" fill="#cc4a52" stroke="#111" stroke-width="1"/>
<line x1="717.5" x2="717.5" y1="364" y2="381" stroke="#111" stroke-width="1"/>
<rect x="715.5" y="366.5" width="4" height="8" fill="#2b8a70" stroke="#111" stroke-width="1"/>
<line x1="723.5" x2="723.5" y1="365" y2="369" stroke="#111" stroke-width="1"/>
<rect x="721" y="366" width="5" height="1.4" fill="#111"/>
<line x1="729.5" x2="729.5" y1="360" y2="371" stroke="#111" stroke-width="1"/>
<rect x="727.5" y="362.5" width="4" height="6" fill="#2b8a70" stroke="#111" stroke-width="1"/>
<line x1="735.5" x2="735.5" y1="357" y2="365" stroke="#111" stroke-width="1"/>
<rect x="733" y="358" width="5" height="1.4" fill="#111"/>
<line x1="741.5" x2="741.5" y1="350" y2="359" stroke="#111" stroke-width="1"/>
<rect x="739.5" y="351.5" width="4" height="5" fill="#2b8a70" stroke="#111" stroke-width="1"/>
<line x1="748.5" x2="748.5" y1="339" y2="353" stroke="#111" stroke-width="1"/>
<rect x="746.5" y="339.5" width="4" height="11" fill="#2b8a70" stroke="#111" stroke-width="1"/>
<line x1="754.5" x2="754.5" y1="317" y2="342" stroke="#111" stroke-width="1"/>
<rect x="752.5" y="319.5" width="4" height="20" fill="#2b8a70" stroke="#111" stroke-width="1"/>
<line x1="760.5" x2="760.5" y1="306" y2="318" stroke="#111" stroke-width="1"/>
<rect x="758.5" y="307.5" width="4" height="9" fill="#2b8a70" stroke="#111" stroke-width="1"/>
<line x1="766.5" x2="766.5" y1="311" y2="322" stroke="#111" stroke-width="1"/>
<rect x="764.5" y="311.5" width="4" height="3" fill="#cc4a52" stroke="#111" stroke-width="1"/>
<line x1="772.5" x2="772.5" y1="301" y2="318" stroke="#111" stroke-width="1"/>
<rect x="770.5" y="302.5" width="4" height="14" fill="#2b8a70" stroke="#111" stroke-width="1"/>
<line x1="778.5" x2="778.5" y1="293" y2="310" stroke="#111" stroke-width="1"/>
<rect x="776.5" y="295.5" width="4" height="11" fill="#2b8a70" stroke="#111" stroke-width="1"/>
<line x1="785.5" x2="785.5" y1="285" y2="299" stroke="#111" stroke-width="1"/>
<rect x="783.5" y="294.5" width="4" height="2" fill="#2b8a70" stroke="#111" stroke-width="1"/>
<line x1="791.5" x2="791.5" y1="290" y2="302" stroke="#111" stroke-width="1"/>
<rect x="789.5" y="294.5" width="4" height="6" fill="#2b8a70" stroke="#111" stroke-width="1"/>
<line x1="797.5" x2="797.5" y1="293" y2="302" stroke="#111" stroke-width="1"/>
<rect x="795" y="295" width="5" height="1.4" fill="#111"/>
<line x1="803.5" x2="803.5" y1="290" y2="297" stroke="#111" stroke-width="1"/>
<rect x="801.5" y="293.5" width="4" height="3" fill="#2b8a70" stroke="#111" stroke-width="1"/>
<line x1="809.5" x2="809.5" y1="283" y2="299" stroke="#111" stroke-width="1"/>
<rect x="807.5" y="284.5" width="4" height="10" fill="#2b8a70" stroke="#111" stroke-width="1"/>
<line x1="816.5" x2="816.5" y1="278" y2="286" stroke="#111" stroke-width="1"/>
<rect x="814" y="283" width="5" height="1.4" fill="#111"/>
<line x1="822.5" x2="822.5" y1="277" y2="294" stroke="#111" stroke-width="1"/>
<rect x="820.5" y="282.5" width="4" height="2" fill="#cc4a52" stroke="#111" stroke-width="1"/>
<line x1="828.5" x2="828.5" y1="287" y2="300" stroke="#111" stroke-width="1"/>
<rect x="826.5" y="291.5" width="4" height="4" fill="#cc4a52" stroke="#111" stroke-width="1"/>
<line x1="834.5" x2="834.5" y1="284" y2="299" stroke="#111" stroke-width="1"/>
<rect x="832.5" y="288.5" width="4" height="7" fill="#2b8a70" stroke="#111" stroke-width="1"/>
<line x1="840.5" x2="840.5" y1="267" y2="285" stroke="#111" stroke-width="1"/>
<rect x="838.5" y="269.5" width="4" height="15" fill="#2b8a70" stroke="#111" stroke-width="1"/>
<line x1="846.5" x2="846.5" y1="256" y2="270" stroke="#111" stroke-width="1"/>
<rect x="844.5" y="258.5" width="4" height="9" fill="#2b8a70" stroke="#111" stroke-width="1"/>
<line x1="853.5" x2="853.5" y1="260" y2="276" stroke="#111" stroke-width="1"/>
<rect x="851.5" y="263.5" width="4" height="8" fill="#cc4a52" stroke="#111" stroke-width="1"/>
<line x1="859.5" x2="859.5" y1="264" y2="275" stroke="#111" stroke-width="1"/>
<rect x="857" y="270" width="5" height="1.4" fill="#111"/>
<line x1="865.5" x2="865.5" y1="258" y2="272" stroke="#111" stroke-width="1"/>
<rect x="863.5" y="260.5" width="4" height="7" fill="#2b8a70" stroke="#111" stroke-width="1"/>
<line x1="871.5" x2="871.5" y1="246" y2="265" stroke="#111" stroke-width="1"/>
<rect x="869.5" y="247.5" width="4" height="17" fill="#2b8a70" stroke="#111" stroke-width="1"/>
<line x1="877.5" x2="877.5" y1="235" y2="256" stroke="#111" stroke-width="1"/>
<rect x="875.5" y="242.5" width="4" height="3" fill="#2b8a70" stroke="#111" stroke-width="1"/>
<line x1="884.5" x2="884.5" y1="229" y2="240" stroke="#111" stroke-width="1"/>
<rect x="882.5" y="236.5" width="4" height="2" fill="#2b8a70" stroke="#111" stroke-width="1"/>
<line x1="890.5" x2="890.5" y1="229" y2="250" stroke="#111" stroke-width="1"/>
<rect x="888.5" y="238.5" width="4" height="5" fill="#cc4a52" stroke="#111" stroke-width="1"/>
<line x1="896.5" x2="896.5" y1="230" y2="246" stroke="#111" stroke-width="1"/>
<rect x="894.5" y="233.5" width="4" height="6" fill="#2b8a70" stroke="#111" stroke-width="1"/>
<line x1="902.5" x2="902.5" y1="209" y2="232" stroke="#111" stroke-width="1"/>
<rect x="900.5" y="214.5" width="4" height="17" fill="#2b8a70" stroke="#111" stroke-width="1"/>
<line x1="908.5" x2="908.5" y1="204" y2="217" stroke="#111" stroke-width="1"/>
<rect x="906.5" y="208.5" width="4" height="4" fill="#2b8a70" stroke="#111" stroke-width="1"/>
<line x1="914.5" x2="914.5" y1="186" y2="207" stroke="#111" stroke-width="1"/>
<rect x="912.5" y="189.5" width="4" height="17" fill="#2b8a70" stroke="#111" stroke-width="1"/>
<line x1="921.5" x2="921.5" y1="187" y2="218" stroke="#111" stroke-width="1"/>
<rect x="919.5" y="192.5" width="4" height="23" fill="#cc4a52" stroke="#111" stroke-width="1"/>
<line x1="927.5" x2="927.5" y1="197" y2="217" stroke="#111" stroke-width="1"/>
<rect x="925.5" y="208.5" width="4" height="3" fill="#2b8a70" stroke="#111" stroke-width="1"/>
<line x1="933.5" x2="933.5" y1="172" y2="204" stroke="#111" stroke-width="1"/>
<rect x="931.5" y="172.5" width="4" height="30" fill="#2b8a70" stroke="#111" stroke-width="1"/>
<line x1="939.5" x2="939.5" y1="156" y2="178" stroke="#111" stroke-width="1"/>
<rect x="937.5" y="164.5" width="4" height="7" fill="#2b8a70" stroke="#111" stroke-width="1"/>
<line x1="945.5" x2="945.5" y1="144" y2="164" stroke="#111" stroke-width="1"/>
<rect x="943.5" y="153.5" width="4" height="10" fill="#2b8a70" stroke="#111" stroke-width="1"/>
<line x1="951.5" x2="951.5" y1="114" y2="150" stroke="#111" stroke-width="1"/>
<rect x="949.5" y="125.5" width="4" height="23" fill="#2b8a70" stroke="#111" stroke-width="1"/>
<line x1="958.5" x2="958.5" y1="102" y2="154" stroke="#111" stroke-width="1"/>
<rect x="956.5" y="113.5" width="4" height="36" fill="#cc4a52" stroke="#111" stroke-width="1"/>
<line x1="964.5" x2="964.5" y1="100" y2="146" stroke="#111" stroke-width="1"/>
<rect x="962.5" y="110.5" width="4" height="24" fill="#2b8a70" stroke="#111" stroke-width="1"/>
<line x1="970.5" x2="970.5" y1="101" y2="183" stroke="#111" stroke-width="1"/>
<rect x="968.5" y="107.5" width="4" height="70" fill="#cc4a52" stroke="#111" stroke-width="1"/>
<line x1="976.5" x2="976.5" y1="160" y2="202" stroke="#111" stroke-width="1"/>
<rect x="974.5" y="170.5" width="4" height="27" fill="#cc4a52" stroke="#111" stroke-width="1"/>
<line x1="56" x2="1120" y1="199.5" y2="199.5" stroke="#444" stroke-width="1" stroke-dasharray="1 2"/>
<rect x="1120.4" y="191.5" width="55.6" height="16.5" fill="#e8394a"/><text x="1125.4" y="202.7" fill="#fff" style="font-size:11px;font-weight:bold" textLength="46.2" lengthAdjust="spacingAndGlyphs">GCZ2025</text>
<g transform="translate(352.4,608.3)"><circle r="9.6" fill="#fcf8ff" stroke="#5a2db0" stroke-width="1.6"/><path d="M-4.7,-3.3 L0.2,0.2 H6 M3,-2.8 L6,0.2 L3,3.2" fill="none" stroke="#5a2db0" stroke-width="1.6" stroke-linecap="round" stroke-linejoin="round"/><path d="M-5.2,4.7 L-2.6,2.3" stroke="#5a2db0" stroke-width="1.6" stroke-linecap="round"/></g>
<g transform="translate(611.4,608.3)"><circle r="9.6" fill="#fcf8ff" stroke="#5a2db0" stroke-width="1.6"/><path d="M-4.7,-3.3 L0.2,0.2 H6 M3,-2.8 L6,0.2 L3,3.2" fill="none" stroke="#5a2db0" stroke-width="1.6" stroke-linecap="round" stroke-linejoin="round"/><path d="M-5.2,4.7 L-2.6,2.3" stroke="#5a2db0" stroke-width="1.6" stroke-linecap="round"/></g>
<g transform="translate(1131,608.3)"><circle r="9.6" fill="#fcf8ff" stroke="#5a2db0" stroke-width="1.6"/><path d="M-4.7,-3.3 L0.2,0.2 H6 M3,-2.8 L6,0.2 L3,3.2" fill="none" stroke="#5a2db0" stroke-width="1.6" stroke-linecap="round" stroke-linejoin="round"/><path d="M-5.2,4.7 L-2.6,2.3" stroke="#5a2db0" stroke-width="1.6" stroke-linecap="round"/></g>
<g transform="translate(92.3,608.8)"><circle r="9.4" fill="#fcf8ff" stroke="#5a2db0" stroke-width="1.6"/><path d="M-5.2,4 Q-1.5,0.6 2.6,-0.4" fill="none" stroke="#5a2db0" stroke-width="1.6" stroke-dasharray="3 1.8"/><path d="M2.4,-0.5 H6.4 M3.3,-3.4 L6.4,-0.5 L3.3,2.5" fill="none" stroke="#5a2db0" stroke-width="1.6" stroke-linecap="round" stroke-linejoin="round"/></g>
<g transform="translate(976.6,608.2)"><circle r="9.6" fill="#fcf8ff" stroke="#6a2a95" stroke-width="1.6" /><path d="M2.2,-5.6 L-4,1 H0.4 L-2.4,5.8 L4.2,-0.9 H-0.2 Z" fill="#6a2a95"/><circle cx="6.8" cy="-6.8" r="3.6" fill="#fff"/><circle cx="6.8" cy="-6.8" r="2.6" fill="#d9403e"/></g>
<g fill="#fff" stroke="#fff" stroke-width="6" stroke-linejoin="round"><path d="M68.05,592.05 H79.7 V606.7 H73.9 V597.6 H68.05 Z"/><circle cx="84.8" cy="594.6" r="2.6"/><path d="M90.9,592.05 H97.8 L92.3,606.7 H85.3 Z"/></g>
<g fill="#fff" stroke="#fff" stroke-width="4.4" stroke-linejoin="round"><text x="104.5" y="607" class="tvt" style="fill:#fff" textLength="121.3" lengthAdjust="spacingAndGlyphs">TradingView</text></g>
<g fill="#111"><path d="M68.05,592.05 H79.7 V606.7 H73.9 V597.6 H68.05 Z"/><circle cx="84.8" cy="594.6" r="2.6"/><path d="M90.9,592.05 H97.8 L92.3,606.7 H85.3 Z"/><text x="104.5" y="607" class="tvt" textLength="121.3" lengthAdjust="spacingAndGlyphs">TradingView</text></g>
<text x="105.24" y="639.3" text-anchor="middle" class="tl" textLength="19" lengthAdjust="spacingAndGlyphs">Apr</text>
<text x="235.04" y="639.3" text-anchor="middle" class="tl" textLength="20.9" lengthAdjust="spacingAndGlyphs">May</text>
<text x="364.83" y="639.3" text-anchor="middle" class="tl" textLength="20.5" lengthAdjust="spacingAndGlyphs">Jun</text>
<text x="488.44" y="639.3" text-anchor="middle" class="tl" textLength="17" lengthAdjust="spacingAndGlyphs">Jul</text>
<text x="624.42" y="639.3" text-anchor="middle" class="tl" textLength="20.1" lengthAdjust="spacingAndGlyphs">Aug</text>
<text x="754.21" y="639.3" text-anchor="middle" class="tl" textLength="19.7" lengthAdjust="spacingAndGlyphs">Sep</text>
<text x="884" y="639.3" text-anchor="middle" class="tl" textLength="18.6" lengthAdjust="spacingAndGlyphs">Oct</text>
<text x="1026.15" y="639.3" text-anchor="middle" class="tl" textLength="20.9" lengthAdjust="spacingAndGlyphs">Nov</text>
<text x="1143.59" y="639.3" text-anchor="middle" class="tl" textLength="20.3" lengthAdjust="spacingAndGlyphs">Dec</text>
</svg>
<svg style="left:56px;top:42px" width="400" height="130" viewBox="56 42 400 130">
<path d="M73,49.4 H84 V66.5 H73 A8.55,8.55 0 0 1 73,49.4 Z" fill="#d6f1ed"/>
<path d="M84,49.4 H94.8 A8.55,8.55 0 0 1 94.8,66.5 H84 Z" fill="#fde8c6"/>
<circle cx="74.9" cy="57.8" r="3.9" fill="#1a9a80"/>
<text x="89.6" y="62.6" fill="#e69412" style="font-size:12.5px">D</text>
<text x="111.8" y="63.2" fill="#131722" style="font-size:13px" textLength="319" lengthAdjust="spacingAndGlyphs">O4,137.0 H4,175.0 L4,021.2 C4,033.5 −75.6 (−1.84%)</text>
<text x="65.6" y="86.6" fill="#131722" style="font-size:13px" textLength="16.5" lengthAdjust="spacingAndGlyphs">Vol</text>
<text x="90.9" y="86.6" fill="#d4707a" style="font-size:13px" textLength="48" lengthAdjust="spacingAndGlyphs">346.09 K</text>
<text x="65.6" y="110.8" fill="#131722" style="font-size:13px" textLength="23.3" lengthAdjust="spacingAndGlyphs">EMA</text>
<text x="97" y="110.8" fill="#c4525c" style="font-size:13px" textLength="43.4" lengthAdjust="spacingAndGlyphs">3,825.4</text>
<text x="65.6" y="134.6" fill="#131722" style="font-size:13px" textLength="23.3" lengthAdjust="spacingAndGlyphs">EMA</text>
<text x="97" y="134.6" fill="#4f4fa6" style="font-size:13px" textLength="42.7" lengthAdjust="spacingAndGlyphs">3,357.1</text>
<rect x="64.6" y="145.3" width="27.8" height="20.1" rx="3" fill="#fff" stroke="#dfe1e6" stroke-width="1"/>
<path d="M74.6,157.6 L78.5,153.7 L82.4,157.6" fill="none" stroke="#131722" stroke-width="1.6" stroke-linecap="round" stroke-linejoin="round"/>
</svg>

<svg style="left:1176px;top:42px" width="65.5" height="608" viewBox="1176 42 65.5 608">
<g fill="#131722" style="font-size:12px">
<text x="1185" y="48.5">4,600.0</text>
<text x="1185" y="102.7">4,400.0</text>
<text x="1185" y="319.6">3,600.0</text>
<text x="1185" y="373.9">3,400.0</text>
<text x="1185" y="428.1">3,200.0</text>
<text x="1185" y="482.3">3,000.0</text>
<text x="1185" y="590.7">2,600.0</text>
</g>
<g fill="#fff" style="font-size:11px;font-weight:bold">
<rect x="1177.4" y="146.8" width="52.8" height="15.6" rx="1.5" fill="#2962ff"/><text x="1184.6" y="157.6" textLength="40.5" lengthAdjust="spacingAndGlyphs">4,200.0</text>
<rect x="1177.6" y="191.5" width="59" height="30.2" rx="2" fill="#e8394a"/><text x="1185" y="202.7" textLength="40" lengthAdjust="spacingAndGlyphs">4,033.5</text><text x="1185" y="216.4" textLength="46.6" lengthAdjust="spacingAndGlyphs">05:59:35</text>
<rect x="1177.6" y="222.5" width="53" height="15.9" rx="1.5" fill="#2962ff"/><text x="1184.8" y="232.9" textLength="40.3" lengthAdjust="spacingAndGlyphs">4,000.0</text>
<rect x="1177.6" y="247.3" width="53" height="16" rx="1.5" fill="#e8394a"/><text x="1185" y="258.6" textLength="40" lengthAdjust="spacingAndGlyphs">3,825.4</text>
<rect x="1177.6" y="264" width="53" height="16.2" rx="1.5" fill="#2962ff"/><text x="1185" y="274.6" textLength="40" lengthAdjust="spacingAndGlyphs">3,800.0</text>
<rect x="1177" y="374.1" width="54.2" height="16.6" rx="1.5" fill="#2e2ef0"/><text x="1185" y="385.8" textLength="39.4" lengthAdjust="spacingAndGlyphs">3,357.1</text>
<rect x="1177" y="523.1" width="57.5" height="16.7" rx="1.5" fill="#e44c4e"/><text x="1185.2" y="535.4" textLength="44.7" lengthAdjust="spacingAndGlyphs">346.09 K</text>
</g>
<g fill="none" stroke="#131722" stroke-width="1.2" stroke-linejoin="round">
<path d="M1205.6,629.6 H1213.2 L1217,635.8 L1213.2,642 H1205.6 L1201.8,635.8 Z"/>
<circle cx="1209.4" cy="635.8" r="2.2"/>
</g>
</svg>
<svg style="left:56px;top:642px" width="1185.5" height="88" viewBox="56 642 1185.5 88">
<path d="M56,649.6 H1241.5" stroke="#e4e4e6" stroke-width="1"/>
<g fill="#131722" style="font-size:13px">
<text x="70.4" y="673.8" textLength="14.6" lengthAdjust="spacingAndGlyphs">1D</text>
<text x="98.3" y="673.8" textLength="14.7" lengthAdjust="spacingAndGlyphs">5D</text>
<text x="126.2" y="673.8" textLength="16.9" lengthAdjust="spacingAndGlyphs">1M</text>
<text x="155.5" y="673.8" textLength="16.7" lengthAdjust="spacingAndGlyphs">3M</text>
<text x="184.3" y="673.8" textLength="17.7" lengthAdjust="spacingAndGlyphs">6M</text>
<text x="213.6" y="673.8" textLength="24.1" lengthAdjust="spacingAndGlyphs">YTD</text>
<text x="250.7" y="673.8" textLength="14.5" lengthAdjust="spacingAndGlyphs">1Y</text>
<text x="278" y="673.8" textLength="14.6" lengthAdjust="spacingAndGlyphs">5Y</text>
<text x="305" y="673.8" textLength="16" lengthAdjust="spacingAndGlyphs">All</text>
<text x="1056.3" y="673.8" textLength="83.2" lengthAdjust="spacingAndGlyphs">15:10:24 UTC</text>
<text x="1161" y="673.8" textLength="36.4" lengthAdjust="spacingAndGlyphs">B-ADJ</text>
</g>
<path d="M332.5,658 V679 M1150.6,658 V679" stroke="#e4e4e6" stroke-width="1"/>
<rect x="1206" y="652.2" width="29.2" height="33.7" rx="5" fill="#ebebeb"/>
<text x="1209.6" y="673.8" fill="#131722" style="font-size:13px" textLength="21.4" lengthAdjust="spacingAndGlyphs">SET</text>
<g fill="none" stroke="#131722" stroke-width="1.2" stroke-linecap="round" stroke-linejoin="round">
<path d="M348,666 V663 A2,2 0 0 1 350,661 H362.5 A2,2 0 0 1 364.5,663 V674.5 A2,2 0 0 1 362.5,676.5 H357 M348,666 H364.5 M352,659 V662.6 M360.5,659 V662.6 M346.5,672.5 H354 M351.5,670 L354,672.5 L351.5,675"/>
<path d="M1178.5,713.4 L1187,705.4 L1195.5,713.4"/>
<path d="M1215.3,707 V705.4 A2,2 0 0 1 1217.3,703.4 H1228.9 A2,2 0 0 1 1230.9,705.4 V707 M1230.9,715.4 V717 A2,2 0 0 1 1228.9,719 H1217.3 A2,2 0 0 1 1215.3,717 V715.4"/>
</g>
<text x="72.7" y="715.8" fill="#131722" style="font-size:14px" textLength="67" lengthAdjust="spacingAndGlyphs">Pine Editor</text>
<text x="173.4" y="715.8" fill="#131722" style="font-size:14px" textLength="82.5" lengthAdjust="spacingAndGlyphs">Trading Panel</text>
</svg>

<svg style="left:0;top:0" width="1291" height="38" viewBox="0 0 1291 38">
<g fill="none" stroke="#131722" stroke-width="1.3" stroke-linecap="round" stroke-linejoin="round">
<circle cx="25.8" cy="18.8" r="12.9" fill="#a27b60" stroke="none"/>
<text x="25.8" y="24.7" text-anchor="middle" fill="#fff" stroke="none" style="font-size:17.5px">T</text>
<circle cx="40.9" cy="9.9" r="9.2" fill="#e8394a" stroke="#fff" stroke-width="1.4"/>
<text x="40.9" y="13.3" text-anchor="middle" fill="#fff" stroke="none" style="font-family:NanumGothic,sans-serif;font-size:9.4px;font-weight:bold">11</text>
<circle cx="69.8" cy="17.6" r="5.2" stroke-width="1.9"/>
<path d="M73.6,21.4 L77.6,25.4" stroke-width="2"/>
<text x="84" y="24.2" fill="#131722" stroke="none" style="font-size:14px;font-weight:bold" textLength="31" lengthAdjust="spacingAndGlyphs">GC1!</text>
<circle cx="170.4" cy="19.2" r="9.3"/>
<path d="M166,19.2 H174.8 M170.4,14.8 V23.6"/>
<path d="M194.7,8 V30 M240.5,8 V30 M287.7,8 V30 M467.8,8 V30 M642.5,8 V30 M1056.5,8 V30" stroke="#e4e4e6" stroke-width="1"/>
<text x="213.2" y="24" fill="#131722" stroke="none" style="font-size:14px">D</text>
<path d="M260.6,9.3 V12.8 M260.6,26 V29 M268.7,10.6 V14.4 M268.7,23.2 V27"/>
<rect x="258.6" y="12.8" width="4" height="13.2" rx="0.5"/>
<rect x="266.7" y="14.4" width="4" height="8.8" rx="0.5"/>
<path d="M303.6,27.6 V23.4 H307.3 V27.6 Z M307.3,27.6 V20.6 H311.5 V27.6 Z M311.5,27.6 V22.8 H315.6 V27.6 Z M315.6,27.6 V17.5 H319.6 V27.6 Z" stroke-width="1.3"/><path d="M303.2,16.6 L308.4,11.8 L312.7,15.1 L319.7,10.2" stroke-width="1.3"/>
<text x="328.8" y="24.2" fill="#131722" stroke="none" style="font-size:14px" textLength="62.2" lengthAdjust="spacingAndGlyphs">Indicators</text>
<path d="M409.5,17.5 L413.3,21.3 L417.1,17.5"/>
<rect x="436.3" y="11.3" width="6.3" height="6.3" rx="1.8"/>
<rect x="445.6" y="11.3" width="6.3" height="6.3" rx="1.8"/>
<rect x="436.3" y="20.4" width="6.3" height="6.3" rx="1.8"/>
<rect x="445.6" y="20.4" width="6.3" height="6.3" rx="1.8"/>
<path d="M497.9,17.4 A8.1,8.1 0 1 0 490.6,27.4"/>
<path d="M490.2,14.2 V19.3 H487.3"/>
<path d="M481,14 L484.4,10.1 M496.3,10.1 L499.7,13.4"/>
<path d="M496.4,21.6 V29.6 M492.4,25.6 H500.4"/>
<text x="509" y="24.2" fill="#131722" stroke="none" style="font-size:14px" textLength="30.5" lengthAdjust="spacingAndGlyphs">Alert</text>
<path d="M568.7,14.2 L562.3,19.3 L568.7,24.4 Z M576.8,14.2 L570.4,19.3 L576.8,24.4 Z"/>
<text x="587.4" y="24.2" fill="#131722" stroke="none" style="font-size:14px" textLength="40.6" lengthAdjust="spacingAndGlyphs">Replay</text>
<path d="M663.3,14 L659.5,17.6 L663.3,21.2 M659.8,17.6 H667 A4.8,4.8 0 0 1 671.8,22.4 V24"/>
<path d="M706.2,14 L710,17.6 L706.2,21.2 M709.7,17.6 H702.5 A4.8,4.8 0 0 0 697.7,22.4 V24" stroke="#b2b5be"/>
<rect x="930.8" y="11.6" width="17.6" height="16" rx="3" stroke-width="1.4"/>
<text x="963.8" y="19.4" fill="#131722" stroke="none" style="font-size:13.5px" textLength="58.2" lengthAdjust="spacingAndGlyphs">Unnamed</text>
<text x="982.9" y="30.3" fill="#3f62b5" stroke="none" style="font-size:9.6px" textLength="20.1" lengthAdjust="spacingAndGlyphs">Save</text>
<path d="M1036.3,17.3 L1040.1,21.1 L1043.9,17.3"/>
<path d="M1076.4,11.4 A7,7 0 1 0 1085.5,18.2 M1083.6,23.6 L1088.6,28.6"/>
<path d="M1082,8.3 L1077.6,14.6 L1081.2,14.9 L1079.7,20.6 L1085.5,13.5 L1081.9,13.3 Z" stroke-width="1.2"/>
<path d="M1113.1,10.3 H1122.9 L1127.9,19 L1122.9,27.7 H1113.1 L1108.1,19 Z"/>
<circle cx="1117.9" cy="18.9" r="3.6"/>
<path d="M1148.5,15 V13 A2,2 0 0 1 1150.5,11 H1152.5 M1159.5,11 H1161.5 A2,2 0 0 1 1163.5,13 V15 M1163.5,22.4 V24.4 A2,2 0 0 1 1161.5,26.4 H1159.5 M1152.5,26.4 H1150.5 A2,2 0 0 1 1148.5,24.4 V22.4"/>
<path d="M1183.7,14.6 A1.6,1.6 0 0 1 1185.3,13 H1188.5 L1190.4,10.5 H1196.4 L1198.3,13 H1201.5 A1.6,1.6 0 0 1 1203.1,14.6 V24.4 A1.6,1.6 0 0 1 1201.5,26 H1185.3 A1.6,1.6 0 0 1 1183.7,24.4 Z"/>
<circle cx="1193.4" cy="19.2" r="3.6"/>
<rect x="1217" y="5" width="69" height="27.7" rx="13.85" fill="#262626" stroke="none"/>
<text x="1229.5" y="23.7" fill="#fff" stroke="#fff" stroke-width="0.45" style="font-size:13.6px" textLength="44.4" lengthAdjust="spacingAndGlyphs">Publish</text>
</g>
</svg>

<svg style="left:0;top:42px" width="52" height="688" viewBox="0 42 52 688">
<rect x="10" y="50" width="33" height="33" rx="6" fill="#ebebeb"/>
<g fill="none" stroke="#131722" stroke-width="1.2" stroke-linecap="round" stroke-linejoin="round">
<path d="M19.6,59.6 V73.2 L22.9,70.1 L25.6,75.9 L28.1,74.8 L25.4,69.1 L29.9,68.9 Z"/>
<circle cx="17.4" cy="113.2" r="2.2"/><circle cx="34.4" cy="96.3" r="2.2"/>
<path d="M19,111.6 L32.8,97.9"/>
<path d="M15.2,133.4 H36.6 M15.2,139.6 H34.2 M15.2,145.5 H36.6 M17.6,151.5 H36.6"/>
<circle cx="36.3" cy="139.6" r="2.1"/><circle cx="15.5" cy="151.5" r="2.1"/>
<path d="M17.4,189 L20.4,172 L24.4,179 L32.3,173 L35.5,186.5 L24.4,179 Z"/>
<circle cx="20.4" cy="172" r="2.1" fill="#fff"/><circle cx="32.3" cy="173" r="2.1" fill="#fff"/><circle cx="24.4" cy="179" r="2.1" fill="#fff"/><circle cx="17.4" cy="189" r="2.1" fill="#fff"/><circle cx="35.5" cy="186.5" r="2.1" fill="#fff"/>
<path d="M18.5,211.8 H35.7 M18.5,220.9 H32.2 M18.5,227.2 H35.7"/>
<circle cx="16.3" cy="211.8" r="2.1"/><circle cx="16.3" cy="220.9" r="2.1"/><circle cx="34.4" cy="220.9" r="2.1"/><circle cx="16.3" cy="227.2" r="2.1"/>
<path d="M21.5,219 L35,213.6" stroke-dasharray="0.9 3.6"/>
<path d="M14.6,265.4 L21.3,256.6 C23.4,254.3 27.2,254.2 28.9,256.8 C30.4,259.3 29.3,262.6 26.9,264.3 C26,265 25,265.4 23.8,265.4 Z"/>
<path d="M29.5,249.8 C29.2,253 30.5,255.6 32.6,255.2 L39.1,249.1"/>
<path d="M19.2,289.9 V286.5 H33.6 V289.9 M26.4,286.5 V303.3 M24,303.3 H28.8"/>
<circle cx="25.5" cy="333.5" r="10"/>
<circle cx="22.1" cy="331.1" r="0.7" fill="#131722"/><circle cx="28.9" cy="331.1" r="0.7" fill="#131722"/>
<path d="M21.7,336.2 C23.5,339 27.5,339 29.3,336.2"/>
<path d="M8,358.4 H43" stroke="#e4e4e6" stroke-width="1"/>
<g transform="rotate(-45 25.9 383.7)"><rect x="11.4" y="379.9" width="29" height="7.6" rx="1"/>
<path d="M15.5,379.9 V382.6 M19.5,379.9 V383.8 M23.5,379.9 V382.6 M27.5,379.9 V383.8 M31.5,379.9 V382.6 M35.5,379.9 V383.8"/></g>
<circle cx="24.2" cy="420.6" r="7.3"/>
<path d="M29.4,425.8 L33.5,429.9 M24.2,417.2 V424 M20.8,420.6 H27.6"/>
<path d="M8,446.6 H43" stroke="#e4e4e6" stroke-width="1"/>
<path d="M18,481.3 V471.2 A7.7,7.7 0 0 1 33.4,471.2 V481.3 H29.2 V471.2 A3.5,3.5 0 0 0 22.2,471.2 V481.3 Z M18,476.8 H22.2 M29.2,476.8 H33.4"/>
<path d="M16.4,517.8 L16,521 L19.2,520.6 L29.4,510.4 L26.2,507.2 Z M26.2,507.2 L28.2,505.2 A1.3,1.3 0 0 1 30,505.2 L31.4,506.6 A1.3,1.3 0 0 1 31.4,508.4 L29.4,510.4"/>
<rect x="29.3" y="515.3" width="7" height="5.8" rx="1"/>
<path d="M30.7,515.3 V513.8 A2.1,2.1 0 0 1 34.9,513.8"/>
<rect x="18.2" y="548.3" width="15" height="9.6" rx="1.8"/>
<path d="M21.5,548.3 V544.2 A4.2,4.2 0 0 1 29.6,542.8"/>
<path d="M25.7,551.8 V554.2" stroke-width="1.8"/>
<path d="M15.6,584.5 C19.5,578 31.5,578 35.4,584.5 C31.5,591 19.5,591 15.6,584.5 Z"/>
<circle cx="25.5" cy="584.3" r="3.7"/>
<path d="M29.6,597.6 C29.2,595.2 30.8,593.5 32.6,594.2 C33.6,595 33.1,596.7 31.6,597.4 Z M33.4,594.2 L37,592.2"/>
<path d="M8,612.4 H43" stroke="#e4e4e6" stroke-width="1"/>
<path d="M17.6,632.4 H34.6 M22.7,632.4 V629.2 H28.9 V632.4 M19.4,632.4 L20.7,648 H31.3 L32.6,632.4"/>
</g>
</svg>

<svg style="left:1246px;top:41px" width="45" height="689" viewBox="1246 41 45 689">
<g fill="none" stroke="#131722" stroke-width="1.2" stroke-linecap="round" stroke-linejoin="round">
<path d="M1259.4,55.2 H1278.4 V78 L1268.9,73.1 L1259.4,78 Z"/>
<path d="M1263.2,60.2 H1274.6 M1263.2,64.2 H1274.6 M1263.2,68.2 H1274.6"/>
<circle cx="1269" cy="113" r="8.5"/>
<path d="M1269,108.4 V113.8 H1265.4"/>
<path d="M1259.6,104.6 A6,6 0 0 1 1263.5,100.4 M1278.4,104.6 A6,6 0 0 0 1274.5,100.4"/>
<path d="M1259,155.2 L1269,149.6 L1279,155.2 L1269,160.8 Z"/>
<path d="M1259,160.3 L1269,165.9 L1279,160.3"/>
<path d="M1260.8,192.8 H1273.6 A2,2 0 0 1 1275.6,194.8 V204.2 A2,2 0 0 1 1273.6,206.2 H1265 L1259,211.4 V194.8 A2,2 0 0 1 1260.8,192.8 Z" transform="translate(0,0)"/>
<path d="M1275.6,199.2 H1278.2 A1.6,1.6 0 0 1 1279.8,200.8 V217.6 L1275.2,213.2 H1268 A1.6,1.6 0 0 1 1266.4,211.6 V206.2"/>
<circle cx="1269" cy="510.7" r="13.3"/>
<circle cx="1269" cy="510.7" r="7.4"/>
<circle cx="1269" cy="510.7" r="1.6" fill="#131722"/>
<path d="M1269,510.7 L1277.6,502.3"/>
<rect x="1257.7" y="547.6" width="22.6" height="20.6" rx="3"/>
<path d="M1257.7,551.2 H1280.3"/>
<rect x="1262.4" y="545.4" width="2.4" height="5" rx="1.1" fill="#fff"/><rect x="1273.8" y="545.4" width="2.4" height="5" rx="1.1" fill="#fff"/>
<path d="M1252,630.7 H1285" stroke="#e4e4e6" stroke-width="1"/>
<circle cx="1259.9" cy="667.6" r="1.5"/>
<path d="M1258.2,660.4 A9,9 0 0 1 1267.2,669.4 M1258.2,654.4 A15,15 0 0 1 1273.2,669.4 M1258.2,648.4 A21,21 0 0 1 1279.2,669.4"/>
<circle cx="1268.8" cy="705.7" r="13.6"/>
</g>
<rect x="1261.4" y="548.6" width="0" height="0"/>
<circle cx="1269" cy="602.8" r="16.9" fill="#262626"/>
<g fill="#fff"><rect x="1259.8" y="594" width="4.4" height="4.4" rx="0.8"/><rect x="1266.8" y="594" width="4.4" height="4.4" rx="0.8"/><rect x="1273.8" y="594" width="4.4" height="4.4" rx="0.8"/><rect x="1259.8" y="601" width="4.4" height="4.4" rx="0.8"/><rect x="1266.8" y="601" width="4.4" height="4.4" rx="0.8"/><rect x="1273.8" y="601" width="4.4" height="4.4" rx="0.8"/><rect x="1259.8" y="608" width="4.4" height="4.4" rx="0.8"/><rect x="1266.8" y="608" width="4.4" height="4.4" rx="0.8"/><rect x="1273.8" y="608" width="4.4" height="4.4" rx="0.8"/></g>
<circle cx="1279" cy="648.3" r="8.4" fill="#e8394a" stroke="#fff" stroke-width="1.4"/>
<text x="1279" y="652.2" text-anchor="middle" fill="#fff" style="font-family:NanumGothic,sans-serif;font-size:11px;font-weight:bold">2</text>
<circle cx="1279.9" cy="695.8" r="5.6" fill="#fff"/>
<circle cx="1257.3" cy="713.4" r="4.6" fill="#fff"/>
<text x="1268.8" y="713.2" text-anchor="middle" fill="#131722" style="font-family:'DejaVu Sans',sans-serif;font-weight:200;font-size:19px">?</text>
<path d="M1279.9,691.2 Q1280.4,695.3 1284.5,695.8 Q1280.4,696.3 1279.9,700.4 Q1279.4,696.3 1275.3,695.8 Q1279.4,695.3 1279.9,691.2 Z" fill="none" stroke="#131722" stroke-width="1.1" stroke-linejoin="round"/>
<path d="M1257.3,709.6 Q1257.7,713 1261.1,713.4 Q1257.7,713.8 1257.3,717.2 Q1256.9,713.8 1253.5,713.4 Q1256.9,713 1257.3,709.6 Z" fill="none" stroke="#131722" stroke-width="1.1" stroke-linejoin="round"/>
</svg>

<svg style="left:0;top:0" width="1291" height="730" viewBox="0 0 1291 730"><path d="M0,723 V730 H7 A7,7 0 0 1 0,723 Z" fill="#000"/><path d="M1291,723 V730 H1284 A7,7 0 0 0 1291,723 Z" fill="#000"/></svg>

</body></html>
